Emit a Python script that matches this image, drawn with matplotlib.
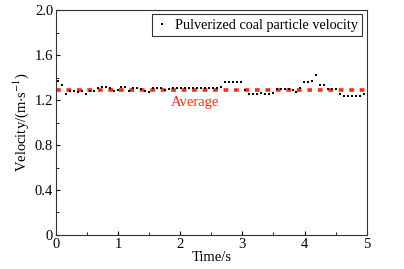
import numpy as np
import matplotlib.pyplot as plt
from matplotlib.ticker import MultipleLocator

plt.rcParams['font.family'] = ['Liberation Serif', 'DejaVu Serif']
plt.rcParams['mathtext.fontset'] = 'stix'

time = np.round(0.03 + 0.064 * np.arange(78), 3)
velocity = [1.37, 1.33, 1.25, 1.28, 1.28, 1.27, 1.28, 1.25, 1.28, 1.28,
            1.31, 1.32, 1.32, 1.31, 1.28, 1.29, 1.32, 1.32, 1.28, 1.31,
            1.31, 1.30, 1.28, 1.27, 1.31, 1.31, 1.31, 1.29, 1.30, 1.31,
            1.31, 1.31, 1.31, 1.31, 1.31, 1.31, 1.31, 1.31, 1.31, 1.31,
            1.31, 1.32, 1.36, 1.36, 1.36, 1.36, 1.36, 1.29, 1.25, 1.25,
            1.25, 1.26, 1.25, 1.25, 1.26, 1.30, 1.30, 1.30, 1.30, 1.29,
            1.27, 1.31, 1.36, 1.36, 1.37, 1.42, 1.33, 1.33, 1.30, 1.30,
            1.30, 1.25, 1.24, 1.24, 1.24, 1.24, 1.24, 1.25]
average = 1.29

fig = plt.figure(figsize=(4.04, 2.69), dpi=100)
ax = fig.add_axes([0.1386, 0.1264, 0.7691, 0.8364])

ax.plot([0, 5], [average, average], color='#ff2a1a', linestyle=(0, (1.3, 1.6)),
        linewidth=2.6, solid_capstyle='butt', dash_capstyle='butt', zorder=2)
ax.plot(time, velocity, 's', color='black', markersize=1.7, markeredgewidth=0,
        zorder=3, label='Pulverized coal particle velocity')
ax.text(2.23, 1.18, 'Average', color='#ff2a1a', fontsize=10.5,
        ha='center', va='center')

ax.set_xlim(0, 5)
ax.set_ylim(0, 2.0)
ax.xaxis.set_major_locator(MultipleLocator(1))
ax.xaxis.set_minor_locator(MultipleLocator(0.5))
ax.yaxis.set_major_locator(MultipleLocator(0.4))
ax.yaxis.set_minor_locator(MultipleLocator(0.2))
ax.yaxis.set_major_formatter(plt.FuncFormatter(lambda v, p: '0' if v == 0 else f'{v:.1f}'))
ax.tick_params(which='both', direction='in', labelsize=10.5, pad=2)
ax.tick_params(which='major', length=3)
ax.tick_params(which='minor', length=2)

ax.set_xlabel('Time/s', fontsize=10.5, labelpad=0)
ax.set_ylabel('Velocity/(m$\\cdot$s$^{-1}$)', fontsize=10.5, labelpad=3)

leg = ax.legend(loc='upper right', fontsize=10.3, frameon=True, fancybox=False,
                handlelength=0.8, handletextpad=0.5, borderpad=0.3,
                borderaxespad=0.3, markerscale=1.0)
leg.get_frame().set_edgecolor('black')
leg.get_frame().set_linewidth(0.8)

for s in ax.spines.values():
    s.set_color('#333333')

fig.savefig('out.png', dpi=100)
